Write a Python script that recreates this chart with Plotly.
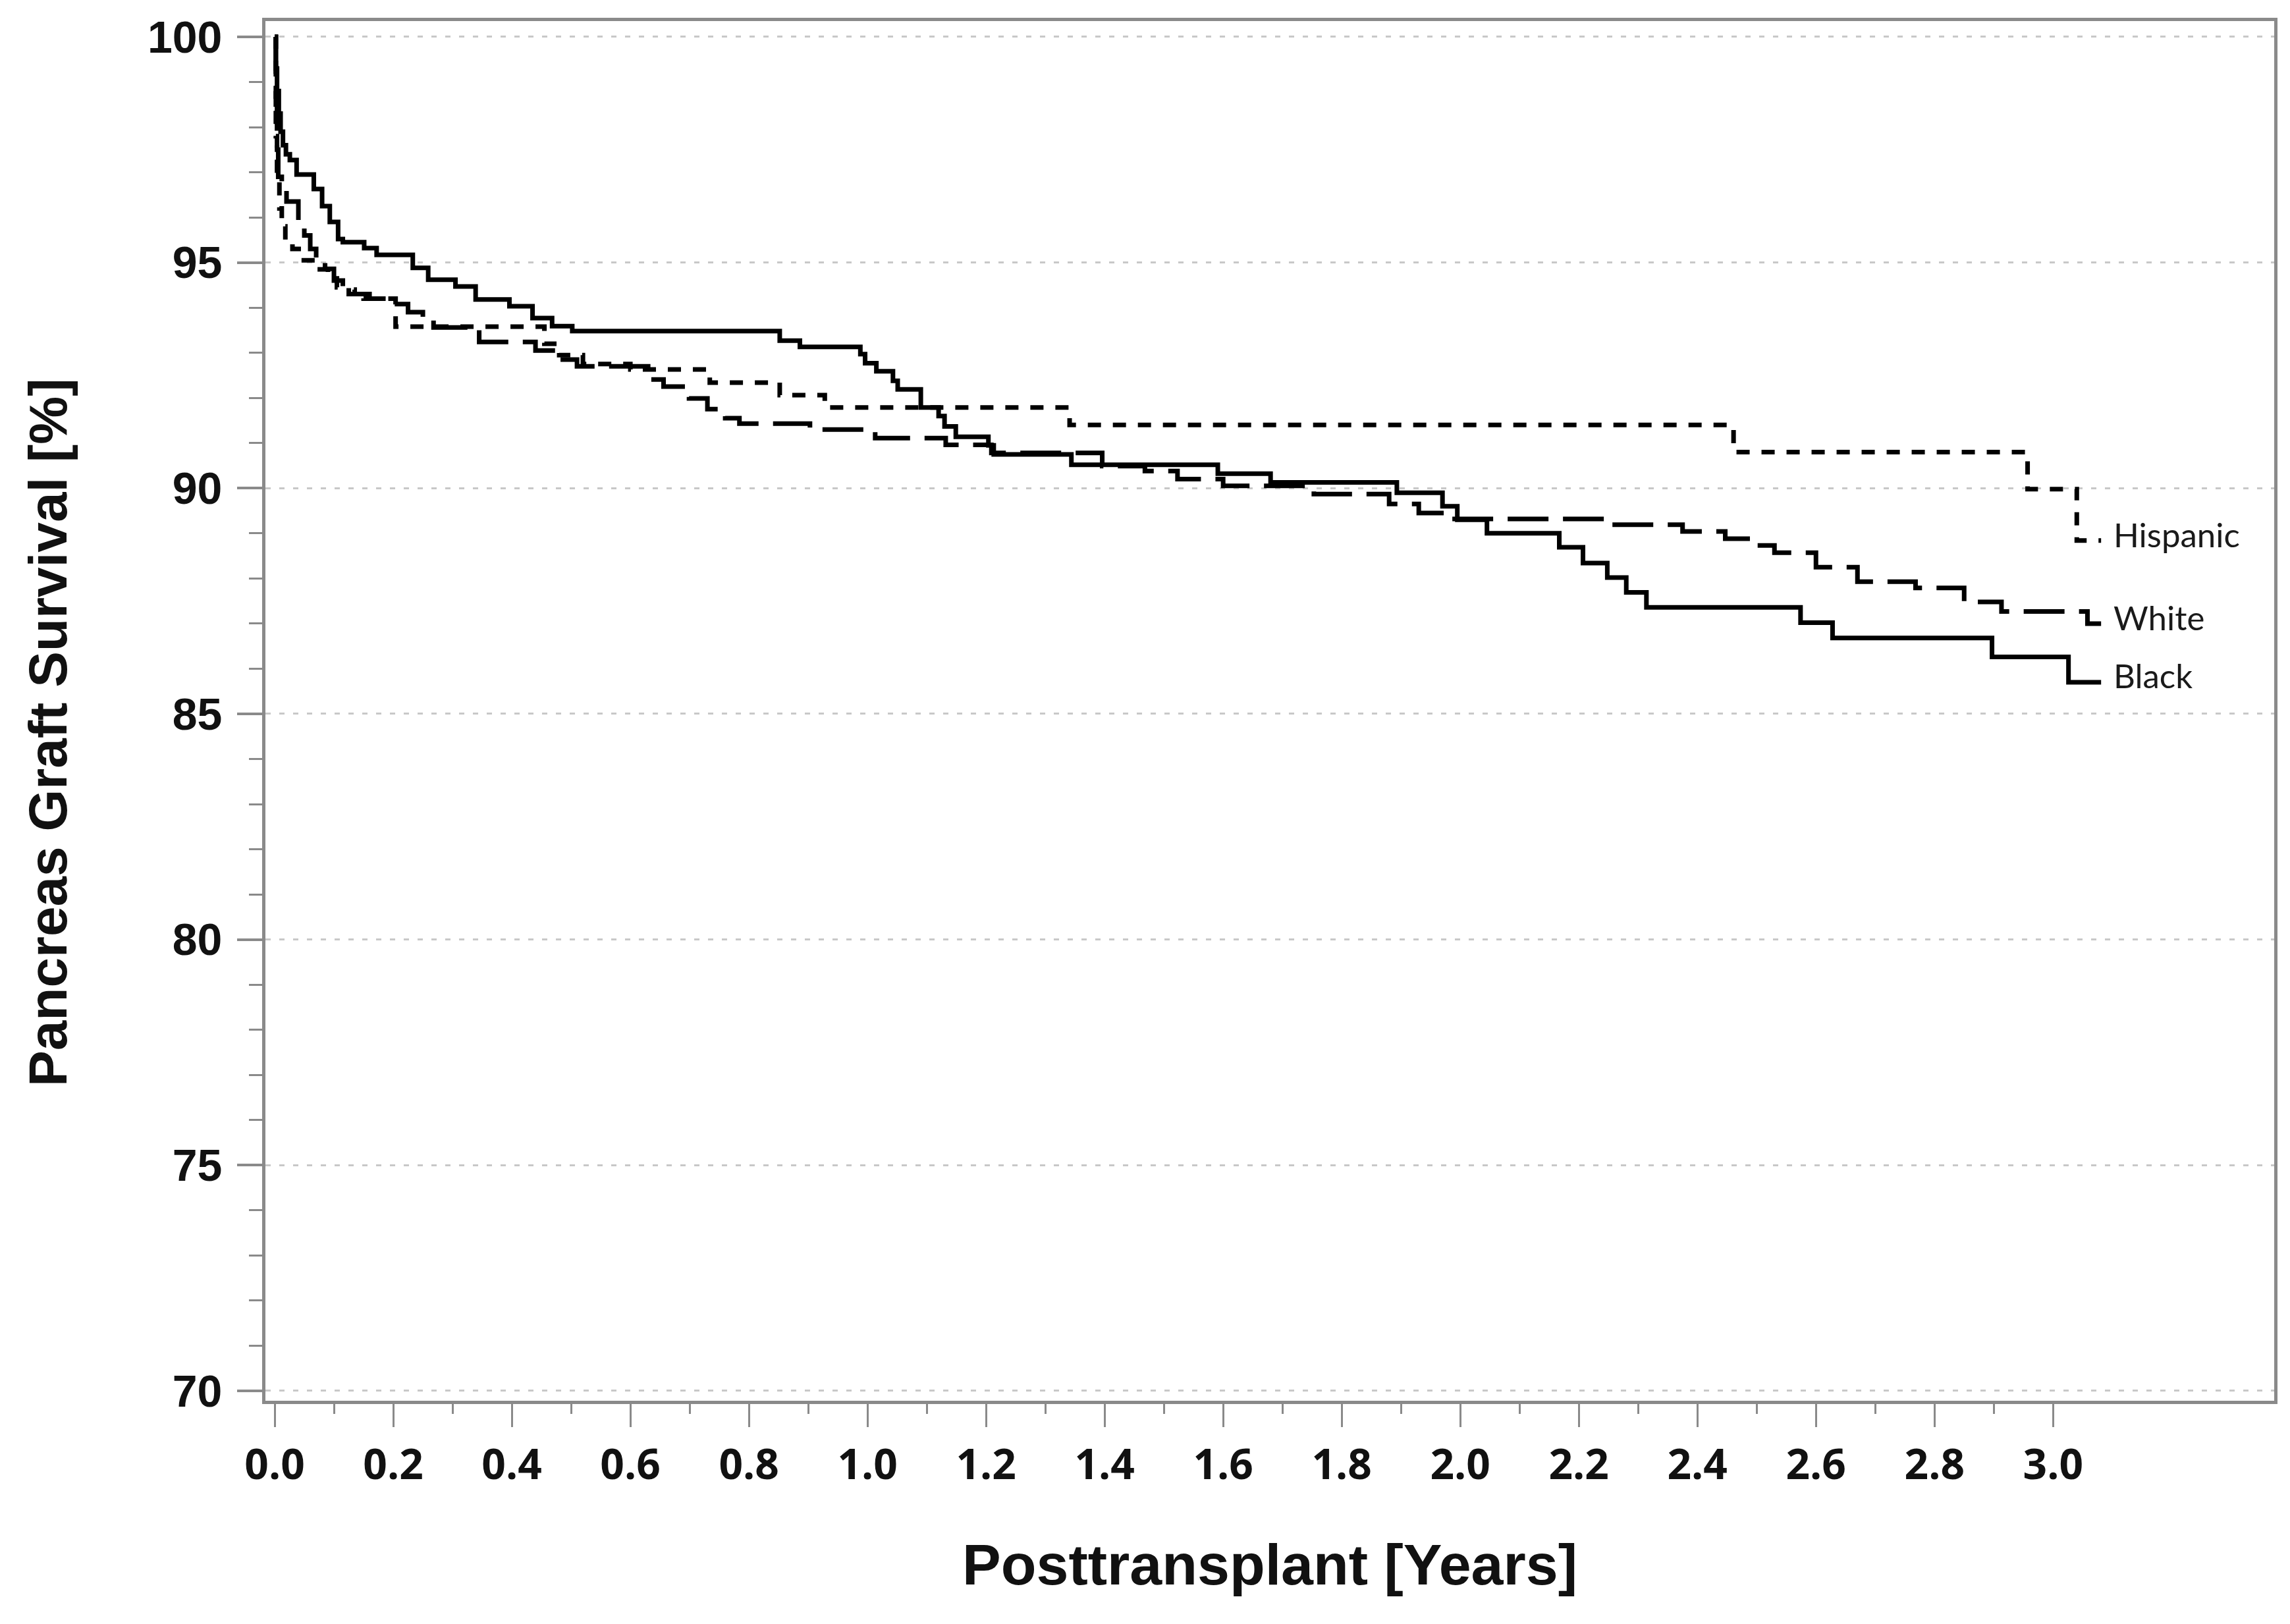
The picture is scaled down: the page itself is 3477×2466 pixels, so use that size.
import plotly.graph_objects as go

# ---------------- data ----------------
black_t = [0, 0.002, 0.004, 0.007, 0.010, 0.014, 0.019, 0.0256, 0.037, 0.066, 0.080, 0.093,
           0.107, 0.115, 0.151, 0.172, 0.233, 0.259, 0.305, 0.339, 0.396, 0.435, 0.468, 0.502,
           0.852, 0.886, 0.988, 0.996, 1.015, 1.043, 1.051, 1.090, 1.120, 1.130, 1.149, 1.204,
           1.213, 1.344, 1.591, 1.680, 1.893, 1.970, 1.995, 2.045, 2.167, 2.207, 2.248, 2.280,
           2.314, 2.574, 2.628, 2.897, 3.026, 3.081]
black_s = [100, 99.3, 98.8, 98.3, 97.9, 97.6, 97.4, 97.27, 96.95, 96.63, 96.25, 95.9,
           95.52, 95.45, 95.32, 95.17, 94.88, 94.62, 94.47, 94.18, 94.03, 93.77, 93.59, 93.48,
           93.27, 93.13, 92.97, 92.77, 92.59, 92.38, 92.19, 91.79, 91.6, 91.37, 91.14, 90.95,
           90.75, 90.52, 90.32, 90.13, 89.9, 89.6, 89.3, 89.0, 88.69, 88.34, 88.02, 87.69,
           87.36, 87.02, 86.68, 86.26, 85.7, 85.7]

white_t = [0, 0.002, 0.004, 0.006, 0.012, 0.020, 0.040, 0.050, 0.060, 0.070, 0.085, 0.100,
           0.115, 0.135, 0.160, 0.200, 0.225, 0.250, 0.268, 0.345, 0.440, 0.480, 0.510, 0.630,
           0.656, 0.699, 0.730, 0.760, 0.784, 0.903, 1.013, 1.132, 1.209, 1.396, 1.468, 1.523,
           1.600, 1.753, 1.880, 1.930, 1.980, 2.248, 2.375, 2.447, 2.490, 2.530, 2.600, 2.670,
           2.768, 2.850, 2.913, 3.058, 3.081]
white_s = [100, 98.5, 97.5, 96.9, 96.6, 96.35, 95.9, 95.6, 95.3, 95.1, 94.86, 94.6,
           94.4, 94.3, 94.2, 94.08, 93.9, 93.79, 93.56, 93.24, 93.05, 92.85, 92.7, 92.41,
           92.25, 91.99, 91.75, 91.55, 91.43, 91.3, 91.11, 90.96, 90.78, 90.49, 90.38, 90.2,
           90.05, 89.87, 89.65, 89.45, 89.32, 89.19, 89.04, 88.88, 88.73, 88.57, 88.25, 87.93,
           87.79, 87.48, 87.27, 87.0, 87.0]

hisp_t = [0, 0.002, 0.004, 0.008, 0.012, 0.018, 0.030, 0.045, 0.070, 0.090, 0.105, 0.125,
          0.150, 0.204, 0.455, 0.480, 0.520, 0.600, 0.734, 0.852, 0.928, 1.341, 2.461, 2.957,
          3.040, 3.081]
hisp_s = [100, 97.8, 96.8, 96.2, 95.8, 95.5, 95.3, 95.05, 94.85, 94.65, 94.45, 94.3,
          94.2, 93.58, 93.2, 92.95, 92.75, 92.63, 92.34, 92.06, 91.79, 91.4, 90.8, 89.98,
          88.84, 88.84]

group_names = ["Hispanic", "White", "Black"]
label_y = [88.98, 87.14, 85.86]
label_x = 3.100

x_major = [0.0, 0.2, 0.4, 0.6, 0.8, 1.0, 1.2, 1.4, 1.6, 1.8, 2.0, 2.2, 2.4, 2.6, 2.8, 3.0]
x_major_text = ["0.0", "0.2", "0.4", "0.6", "0.8", "1.0", "1.2", "1.4", "1.6", "1.8",
                "2.0", "2.2", "2.4", "2.6", "2.8", "3.0"]
x_minor = [0.1, 0.3, 0.5, 0.7, 0.9, 1.1, 1.3, 1.5, 1.7, 1.9, 2.1, 2.3, 2.5, 2.7, 2.9]
y_major = [70, 75, 80, 85, 90, 95, 100]
y_minor = list(range(70, 101))

x_title = "Posttransplant [Years]"
y_title = "Pancreas Graft Survival [%]"

# ---------------- figure ----------------
W, H = 3477, 2466
L, R, T, B = 403, 24, 32, 339
AX = "#8a8a8a"

fig = go.Figure()
fig.add_trace(go.Scatter(x=hisp_t, y=hisp_s, mode="lines", line_shape="hv", name=group_names[0],
                         line=dict(color="black", width=7, dash="20px,18px")))
fig.add_trace(go.Scatter(x=white_t, y=white_s, mode="lines", line_shape="hv", name=group_names[1],
                         line=dict(color="black", width=7, dash="62px,22px")))
fig.add_trace(go.Scatter(x=black_t, y=black_s, mode="lines", line_shape="hv", name=group_names[2],
                         line=dict(color="black", width=7)))

for name, yy in zip(group_names, label_y):
    fig.add_annotation(x=label_x, y=yy, xref="x", yref="y", text=name, showarrow=False,
                       xanchor="left", yanchor="middle",
                       font=dict(family="Lato, Open Sans, sans-serif", size=51, color="#1a1a1a"))

plot_w = W - L - R
plot_h = H - T - B
fig.add_annotation(x=0.5, y=(T + plot_h - 2375) / plot_h, xref="paper", yref="paper",
                   text=x_title, showarrow=False, xanchor="center", yanchor="middle",
                   font=dict(family="Liberation Sans, Arial, sans-serif", size=88, color="#111111",
                             weight="bold"))
fig.add_annotation(x=(72 - L) / plot_w, y=(T + plot_h - 1112) / plot_h, xref="paper", yref="paper",
                   text=y_title, showarrow=False, textangle=-90, xanchor="center", yanchor="middle",
                   font=dict(family="Liberation Sans, Arial, sans-serif", size=82, color="#111111",
                             weight="bold"))

fig.update_xaxes(range=[-0.0156, 3.373], showline=True, linecolor=AX, linewidth=5, mirror=True,
                 tickmode="array", tickvals=x_major, ticktext=x_major_text,
                 ticks="outside", ticklen=35, tickwidth=3, tickcolor=AX,
                 showgrid=False, zeroline=False, ticklabelstandoff=2,
                 tickfont=dict(family="Open Sans, sans-serif", size=64, color="#111111", weight="bold"),
                 minor=dict(tickmode="array", tickvals=x_minor, ticks="outside", ticklen=15,
                            tickwidth=3, tickcolor=AX, showgrid=False))
fig.update_yaxes(range=[69.78, 100.35], showline=True, linecolor=AX, linewidth=5, mirror=True,
                 tickmode="array", tickvals=y_major,
                 ticks="outside", ticklen=38, tickwidth=4, tickcolor=AX,
                 showgrid=True, gridcolor="#c8c8c8", gridwidth=3, griddash="8px,13px",
                 zeroline=False, ticklabelstandoff=9,
                 tickfont=dict(family="Liberation Sans Narrow, Liberation Sans, Arial, sans-serif",
                               size=68, color="#111111", weight="bold"),
                 minor=dict(tickmode="array", tickvals=y_minor, ticks="outside", ticklen=20,
                            tickwidth=3, tickcolor=AX, showgrid=False))

fig.update_layout(width=W, height=H, margin=dict(l=L, r=R, t=T, b=B, pad=0),
                  paper_bgcolor="white", plot_bgcolor="white", showlegend=False)

fig.write_html("out.html", config={"displayModeBar": False},
               post_script="document.body.style.margin='0';document.body.style.overflow='hidden';")
